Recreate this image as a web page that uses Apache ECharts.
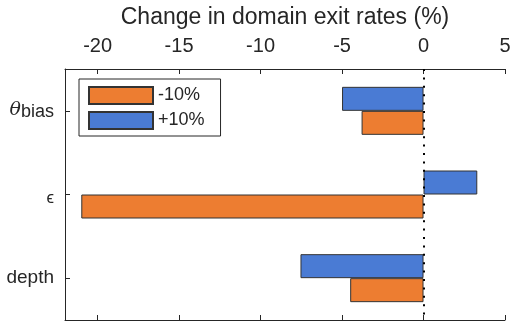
<!DOCTYPE html>
<html>
<head>
<meta charset="utf-8">
<script src="https://cdn.jsdelivr.net/npm/echarts@6/dist/echarts.min.js"></script>
<style>
html, body { margin: 0; padding: 0; background: #fff; }
#main { width: 521px; height: 325px; }
</style>
</head>
<body>
<div id="main"></div>
<script>
// 数据
var categories = ['theta_bias', 'epsilon', 'depth']
var minus10 = [-3.8, -21.0, -4.5]
var plus10 = [-5.0, 3.3, -7.55]
var xTicks = [-20, -15, -10, -5, 0, 5]

var FONT = '"Liberation Sans", Arial, Helvetica, sans-serif'
var INK = '#262626'

var myChart = echarts.init(document.getElementById('main'))

var option = {
    animation: false,
    backgroundColor: '#fff',
    grid: {
        left: 65,
        right: 16,
        top: 69,
        bottom: 5
    },
    legend: {
        data: ['-10%', '+10%'],
        orient: 'vertical',
        left: 79,
        top: 79,
        padding: [7, 16, 6, 9],
        itemWidth: 64,
        itemHeight: 17,
        itemGap: 6,
        icon: 'rect',
        borderColor: INK,
        borderWidth: 1,
        backgroundColor: '#fff',
        textStyle: {
            fontFamily: FONT,
            fontSize: 18,
            color: INK
        }
    },
    xAxis: [{
        type: 'value',
        position: 'top',
        min: -22,
        max: 5,
        name: 'Change in domain exit rates (%)',
        nameLocation: 'middle',
        nameGap: 40,
        nameTextStyle: {
            fontFamily: FONT,
            fontSize: 23,
            color: INK
        },
        splitLine: { show: false },
        axisLine: { show: true, onZero: false, lineStyle: { color: INK, width: 1 } },
        axisTick: {
            show: true,
            length: -5,  // 负值 = 朝内
            customValues: xTicks,
            lineStyle: { color: INK, width: 1 }
        },
        axisLabel: {
            customValues: xTicks,
            margin: 13,
            fontFamily: FONT,
            fontSize: 20,
            color: INK
        }
    }, {
        type: 'value',
        position: 'bottom',
        min: -22,
        max: 5,
        splitLine: { show: false },
        axisLine: { show: true, onZero: false, lineStyle: { color: INK, width: 1 } },
        axisTick: {
            show: true,
            length: -5,
            customValues: xTicks,
            lineStyle: { color: INK, width: 1 }
        },
        axisLabel: { show: false, customValues: xTicks }
    }],
    yAxis: {
        type: 'category',
        inverse: true,
        data: categories,
        axisLine: { show: true, onZero: false, lineStyle: { color: INK, width: 1 } },
        axisTick: {
            show: true,
            length: -5,
            alignWithLabel: true,
            lineStyle: { color: INK, width: 1 }
        },
        axisLabel: {
            margin: 11,
            fontFamily: FONT,
            fontSize: 19,
            color: INK,
            formatter: function (v) {
                if (v === 'theta_bias') return '{t|θ}{s|bias}'
                if (v === 'epsilon') return '{e|ϵ}'
                return v
            },
            rich: {
                t: {
                    fontFamily: '"DejaVu Serif", "Liberation Serif", serif',
                    fontStyle: 'italic',
                    fontSize: 19,
                    color: INK,
                    verticalAlign: 'top',
                    lineHeight: 20
                },
                s: {
                    fontFamily: FONT,
                    fontSize: 18,
                    color: INK,
                    verticalAlign: 'bottom',
                    lineHeight: 18,
                    padding: [12, 0, 0, 0]
                },
                e: {
                    fontFamily: FONT,
                    fontSize: 17,
                    color: INK,
                    padding: [8, 0, 0, 0]
                }
            }
        }
    },
    series: [{
        name: '+10%',
        type: 'bar',
        data: plus10,
        barWidth: 24,
        barGap: '0%',
        itemStyle: {
            color: '#4A7BD4',
            borderColor: '#333',
            borderWidth: 1
        },
        // 0 处的虚线
        markLine: {
            silent: true,
            symbol: 'none',
            label: { show: false },
            lineStyle: {
                color: '#000',
                width: 2,
                type: [2, 6.4]
            },
            data: [{ xAxis: 0 }]
        }
    }, {
        name: '-10%',
        type: 'bar',
        data: minus10,
        barWidth: 24,
        barGap: '0%',
        itemStyle: {
            color: '#ED7D31',
            borderColor: '#333',
            borderWidth: 1
        }
    }]
}

myChart.setOption(option)
</script>
</body>
</html>
